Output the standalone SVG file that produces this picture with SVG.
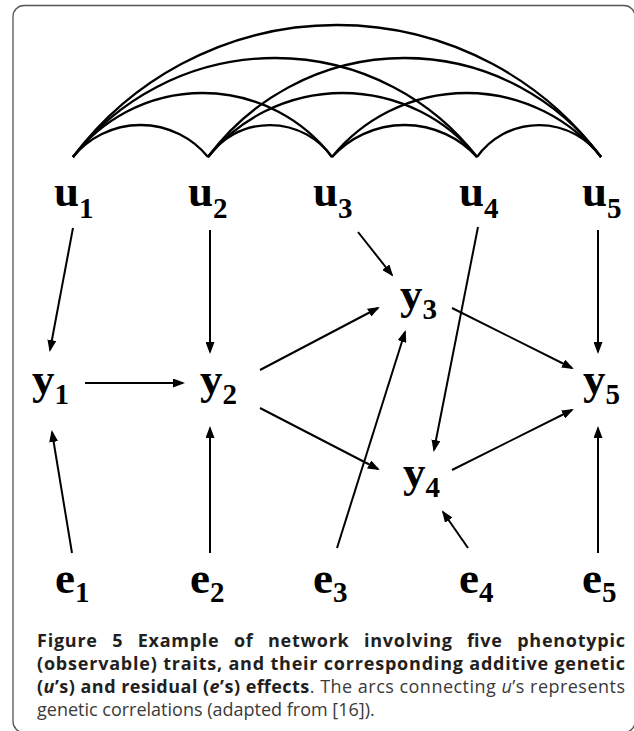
<svg xmlns="http://www.w3.org/2000/svg" width="634" height="731" viewBox="0 0 634 731">
<style>
.arc{fill:none;stroke:#000;stroke-width:2.3}
.edge{fill:none;stroke:#000;stroke-width:2;marker-end:url(#ah)}
.lbl{font-family:"Liberation Serif","Times New Roman",serif;font-weight:bold;font-size:45px;fill:#000}
.sub{font-size:29px}
.cap{font-family:"Open Sans","Noto Sans",sans-serif;font-size:18px;fill:#3a3a3a}
.b{font-weight:bold;fill:#231f20}
.i{font-style:italic}
</style>
<defs>
<marker id="ah" markerUnits="userSpaceOnUse" markerWidth="12" markerHeight="9" refX="10" refY="4.5" orient="auto">
<path d="M0,0 L12,4.5 L0,9 z" fill="#000"/>
</marker>
</defs>
<rect x="13" y="5.5" width="622" height="727" rx="11" ry="11" fill="#fff" stroke="#555" stroke-width="1.3"/>
<g id="connectors">
<g id="arcs">
<path class="arc" d="M73 157 A87.2 87.2 0 0 1 208 157"/>
<path class="arc" d="M208 157 A76.1 76.1 0 0 1 332 157"/>
<path class="arc" d="M332 157 A98.1 98.1 0 0 1 477 157"/>
<path class="arc" d="M477 157 A76.1 76.1 0 0 1 601 157"/>
<path class="arc" d="M73 157 A163 163 0 0 1 332 157"/>
<path class="arc" d="M208 157 A173.3 173.3 0 0 1 477 157"/>
<path class="arc" d="M332 157 A173.3 173.3 0 0 1 601 157"/>
<path class="arc" d="M73 157 A255.6 255.6 0 0 1 477 157"/>
<path class="arc" d="M208 157 A244.5 244.5 0 0 1 601 157"/>
<path class="arc" d="M73 157 A330 330 0 0 1 601 157"/>
</g>
<line class="edge" x1="73" y1="228" x2="50" y2="350"/>
<line class="edge" x1="210" y1="230" x2="210" y2="352"/>
<line class="edge" x1="358" y1="232" x2="392" y2="275"/>
<line class="edge" x1="478" y1="227" x2="434" y2="450"/>
<line class="edge" x1="598" y1="230" x2="598" y2="352"/>
<line class="edge" x1="85" y1="383" x2="183" y2="383"/>
<line class="edge" x1="260" y1="370" x2="378" y2="308"/>
<line class="edge" x1="260" y1="408" x2="378" y2="469"/>
<line class="edge" x1="452" y1="308" x2="572" y2="368"/>
<line class="edge" x1="452" y1="470" x2="572" y2="410"/>
<line class="edge" x1="72" y1="553" x2="52" y2="432"/>
<line class="edge" x1="210" y1="553" x2="210" y2="428"/>
<line class="edge" x1="337" y1="548" x2="405" y2="332"/>
<line class="edge" x1="468" y1="548" x2="443" y2="512"/>
<line class="edge" x1="598" y1="553" x2="598" y2="428"/>
</g>
<g id="u1"><text class="lbl" x="54" y="206">u<tspan class="sub" dy="12">1</tspan></text></g>
<g id="u2"><text class="lbl" x="188" y="206">u<tspan class="sub" dy="12">2</tspan></text></g>
<g id="u3"><text class="lbl" x="313" y="206">u<tspan class="sub" dy="12">3</tspan></text></g>
<g id="u4"><text class="lbl" x="459" y="206">u<tspan class="sub" dy="12">4</tspan></text></g>
<g id="u5"><text class="lbl" x="582" y="206">u<tspan class="sub" dy="12">5</tspan></text></g>
<g id="y1"><text class="lbl" x="32" y="394">y<tspan class="sub" dy="10">1</tspan></text></g>
<g id="y2"><text class="lbl" x="200" y="394">y<tspan class="sub" dy="10">2</tspan></text></g>
<g id="y3"><text class="lbl" x="400" y="309">y<tspan class="sub" dy="10">3</tspan></text></g>
<g id="y4"><text class="lbl" x="403" y="487">y<tspan class="sub" dy="10">4</tspan></text></g>
<g id="y5"><text class="lbl" x="583" y="394">y<tspan class="sub" dy="10">5</tspan></text></g>
<g id="e1"><text class="lbl" x="55" y="593">e<tspan class="sub" dy="9">1</tspan></text></g>
<g id="e2"><text class="lbl" x="190" y="593">e<tspan class="sub" dy="9">2</tspan></text></g>
<g id="e3"><text class="lbl" x="313" y="593">e<tspan class="sub" dy="9">3</tspan></text></g>
<g id="e4"><text class="lbl" x="459" y="593">e<tspan class="sub" dy="9">4</tspan></text></g>
<g id="e5"><text class="lbl" x="582" y="593">e<tspan class="sub" dy="9">5</tspan></text></g>
<g id="caption">
<text class="cap b" x="37" y="647" word-spacing="9" textLength="588" lengthAdjust="spacing">Figure 5 Example of network involving five phenotypic</text>
<text class="cap b" x="37" y="670" textLength="588" lengthAdjust="spacing">(observable) traits, and their corresponding additive genetic</text>
<text class="cap" x="37" y="693" textLength="588" lengthAdjust="spacing"><tspan class="b">(<tspan class="i">u</tspan>’s) and residual (<tspan class="i">e</tspan>’s) effects</tspan>. The arcs connecting <tspan class="i">u</tspan>’s represents</text>
<text class="cap" x="37" y="716">genetic correlations (adapted from [16]).</text>
</g>
</svg>
